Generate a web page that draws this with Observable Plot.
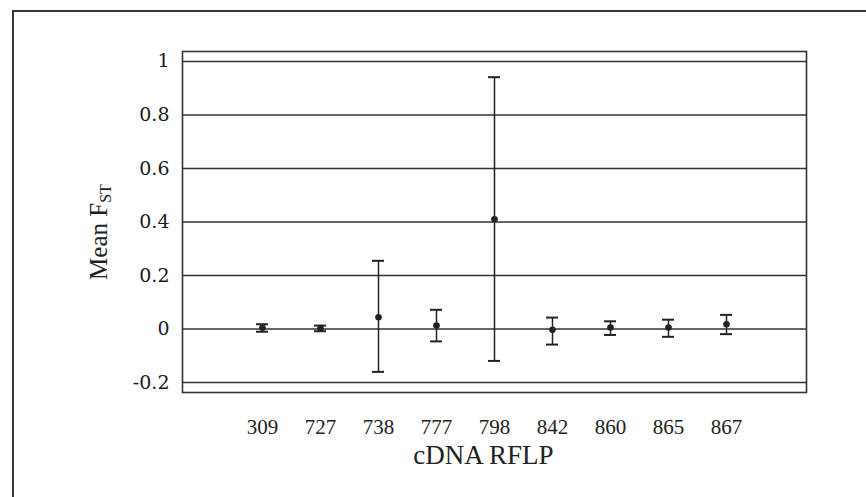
<!DOCTYPE html>
<html><head><meta charset="utf-8">
<script src="https://cdn.jsdelivr.net/npm/d3@7"></script>
<script src="https://cdn.jsdelivr.net/npm/@observablehq/plot@0.6"></script>
<style>
html,body{margin:0;padding:0;background:#fff;overflow:hidden;width:866px;height:497px;}
#wrap{position:relative;width:866px;height:497px;overflow:hidden;}
#chart{position:absolute;left:0;top:0;}
#border{position:absolute;left:12px;top:10px;width:900px;height:600px;border-left:2px solid #3a3a3a;border-top:2px solid #3a3a3a;pointer-events:none;}
</style></head><body>
<div id="wrap"><div id="chart"></div><div id="border"></div></div>
<script>
const markers = ["309","727","738","777","798","842","860","865","867"];
const meanFst = [0.005, 0.002, 0.044, 0.013, 0.41, -0.003, 0.006, 0.006, 0.018];
const upper   = [0.018, 0.013, 0.255, 0.072, 0.941, 0.043, 0.029, 0.035, 0.053];
const lower   = [-0.01, -0.008, -0.16, -0.046, -0.119, -0.058, -0.022, -0.029, -0.019];
const yTicks = [-0.2, 0, 0.2, 0.4, 0.6, 0.8, 1];
const xTitle = "cDNA RFLP";
const yTitle = "Mean F";
const yTitleSub = "ST";

const data = markers.map((m, i) => ({marker: m, mean: meanFst[i], hi: upper[i], lo: lower[i]}));

const chart = Plot.plot({
  width: 866, height: 497,
  marginLeft: 182, marginRight: 60, marginTop: 51, marginBottom: 105,
  style: {background: "transparent", color: "#222"},
  x: {type: "band", domain: markers, paddingInner: 0.797, paddingOuter: 1.188, align: 0.5},
  y: {domain: [-0.237, 1.037]},
  marks: [
    Plot.gridY(yTicks, {stroke: "#333", strokeOpacity: 1, strokeWidth: 1.5}),
    Plot.frame({stroke: "#333", strokeWidth: 1.6}),
    Plot.axisY(yTicks, {tickSize: 0, tickPadding: 13, tickFormat: d => String(d), fontSize: 19, fontFamily: "DejaVu Serif", fill: "#1a1a1a", label: null}),
    Plot.axisX({tickSize: 0, tickPadding: 27, fontSize: 21, fontFamily: "Liberation Serif", fill: "#222", label: null}),
    Plot.ruleX(data, {x: "marker", y1: "lo", y2: "hi", stroke: "#222", strokeWidth: 1.5}),
    Plot.tickY(data, {x: "marker", y: "hi", stroke: "#222", strokeWidth: 2}),
    Plot.tickY(data, {x: "marker", y: "lo", stroke: "#222", strokeWidth: 2}),
    Plot.dot(data, {x: "marker", y: "mean", r: 3.3, fill: "#222", stroke: "none"}),
    Plot.text([xTitle], {text: d => d, frameAnchor: "bottom", textAnchor: "middle", dy: 63, dx: -11, fontSize: 27, fontFamily: "Liberation Serif", fill: "#222", lineAnchor: "middle"}),
    Plot.text([yTitle], {text: d => d, frameAnchor: "left", textAnchor: "middle", dx: -84, dy: 10, rotate: -90, fontSize: 25, fontFamily: "Liberation Serif", fill: "#222", className: "ylab"})
  ]
});
document.getElementById("chart").append(chart);
d3.select(chart).selectAll(".ylab text").each(function() {
  const t = d3.select(this);
  t.append("tspan").attr("font-size", 16).attr("dy", "0.3em").text(yTitleSub);
});
</script>
</body></html>
